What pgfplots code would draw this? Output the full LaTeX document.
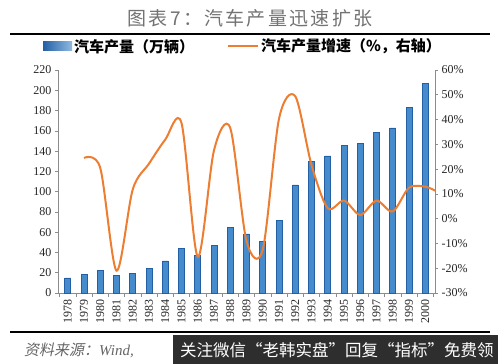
\documentclass[border=0pt]{standalone}
\usepackage{pgfplots}
\pgfplotsset{compat=1.18}
\usepackage{fontspec}
\setmainfont{Liberation Serif}
\newfontfamily\cjk{Noto Sans CJK SC}
\newfontfamily\cjki[FakeSlant=0.2]{Noto Sans CJK SC}
\newfontfamily\cjkt[LetterSpace=12]{Noto Sans CJK SC}
\definecolor{barblue}{RGB}{70,140,205}
\definecolor{baredge}{RGB}{35,95,165}
\definecolor{lineorange}{RGB}{237,125,49}
\definecolor{axgray}{RGB}{140,140,140}
\begin{document}
\begin{tikzpicture}[x=1pt,y=1pt]
\useasboundingbox (0,0) rectangle (498,364);
\fill[white] (0,0) rectangle (498,364);
% title
\node[text=black!55] at (250,346) {\cjkt\fontsize{19}{21}\selectfont 图表7：汽车产量迅速扩张};
\draw[line width=2.2pt] (10,330) -- (490,330);
% legend
\shade[left color=baredge, right color=barblue!60] (43,313) rectangle (72,322);
\node[anchor=west,inner sep=0pt] at (74,317.5) {\cjk\bfseries\fontsize{15}{17}\selectfont 汽车产量（万辆）};
\draw[lineorange, line width=2pt] (228,317.5) -- (258,317.5);
\node[anchor=west,inner sep=0pt] at (261,317.5) {\cjk\bfseries\fontsize{15}{17}\selectfont 汽车产量增速（\%，右轴）};
% bottom
\draw[line width=2.2pt] (10,32) -- (490,32);
\node[anchor=west,text=black!60,inner sep=0pt] at (24,14) {\cjki\fontsize{15}{17}\selectfont 资料来源：\rmfamily\itshape Wind,};
\fill[black!82] (173,0) rectangle (498,29);
\node[anchor=west,text=white,inner sep=0pt] at (180,14) {\cjk\fontsize{16.5}{18}\selectfont 关注微信“老韩实盘”回复“指标”免费领};
\begin{axis}[
  at={(58pt,71pt)}, anchor=south west, scale only axis,
  width=377pt, height=223pt,
  xmin=-0.6, xmax=22.6, ymin=0, ymax=220,
  ytick={0,20,...,220},
  axis y line*=left, axis x line*=bottom,
  axis line style={axgray, line width=0.8pt},
  tick style={axgray, line width=0.6pt},
  tick align=outside,
  major tick length=3pt, minor tick length=4pt,
  xtick={0,...,22},
  xticklabels={1978,1979,1980,1981,1982,1983,1984,1985,1986,1987,1988,1989,1990,1991,1992,1993,1994,1995,1996,1997,1998,1999,2000},
  major x tick style={draw=none},
  minor xtick={-0.5,0.5,...,22.5},
  x tick label style={rotate=90, anchor=east, font=\fontsize{12}{13}\selectfont, text=black!85},
  y tick label style={font=\fontsize{12}{13}\selectfont, text=black!85},
  /pgf/number format/assume math mode=true,
  ybar, bar width=6pt,
  clip=false,
]
\addplot[fill=barblue, draw=baredge, line width=0.6pt] coordinates {
(0,14.91) (1,18.57) (2,22.23) (3,17.56) (4,19.63) (5,23.98) (6,31.64) (7,43.72) (8,36.98) (9,47.18) (10,64.47) (11,58.35) (12,50.9) (13,71.42) (14,106.67) (15,129.85) (16,135.34) (17,145.27) (18,147.52) (19,158.25) (20,162.78) (21,183.2) (22,206.9)};
\end{axis}
\begin{axis}[
  at={(58pt,71pt)}, anchor=south west, scale only axis,
  width=377pt, height=223pt,
  xmin=-0.6, xmax=22.6, ymin=-30, ymax=60,
  ytick={-30,-20,...,60},
  yticklabel={\pgfmathprintnumber{\tick}\%},
  axis y line*=right, axis x line=none,
  axis line style={axgray, line width=0.8pt},
  tick style={axgray, line width=0.6pt},
  tick align=outside, major tick length=3pt,
  y tick label style={font=\fontsize{12}{13}\selectfont, text=black!85},
  /pgf/number format/assume math mode=true,
  clip=false,
]
\addplot[lineorange, line width=2pt, smooth, tension=0.5] coordinates {
(1,24.5) (2,20.5) (3,-21.0) (4,11.8) (5,22.2) (6,31.9) (7,38.6) (8,-15.4) (9,27.6) (10,36.6) (11,-9.0) (12,-12.5) (13,40.3) (14,49.4) (15,21.7) (16,4.2) (17,7.3) (18,1.5) (19,7.3) (20,2.9) (21,12.5) (22,12.9) (22.6,11.3)};
\end{axis}
\end{tikzpicture}
\end{document}
